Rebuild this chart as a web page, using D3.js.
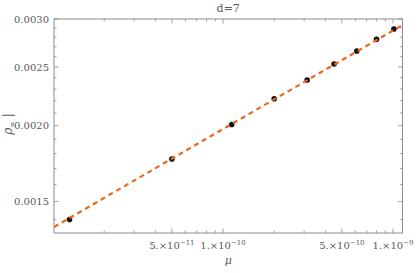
<!DOCTYPE html>
<html>
<head>
<meta charset="utf-8">
<script src="https://cdn.jsdelivr.net/npm/d3@7"></script>
<style>
  body { margin: 0; background: #fff; }
</style>
</head>
<body>
<svg id="chart" width="418" height="273"></svg>
<script>
// data points
var muValues = [1.25e-11, 5e-11, 1.125e-10, 2e-10, 3.125e-10, 4.5e-10, 6.125e-10, 8e-10, 1.0125e-9];
var rhoValues = [0.001401, 0.001763, 0.002010, 0.002216, 0.002380, 0.002529, 0.002657, 0.002778, 0.002888];

// fitted power law rho = fitA * mu^fitB
var fitA = 0.0833;
var fitB = 0.1625;

var xMajorTicks = [5e-11, 1e-10, 5e-10, 1e-9];
var xMajorLabels = [['5.\u00d710', '\u221211'], ['1.\u00d710', '\u221210'], ['5.\u00d710', '\u221210'], ['1.\u00d710', '\u22129']];
var yMajorTicks = [0.0015, 0.0020, 0.0025, 0.0030];
var yMajorLabels = ['0.0015', '0.0020', '0.0025', '0.0030'];

var frame = { left: 54, right: 402.5, top: 19, bottom: 233 };

var x = d3.scaleLog().domain([1.013e-11, 1.137e-9]).range([frame.left, frame.right]);
var y = d3.scaleLog().domain([0.001331, 0.0030]).range([frame.bottom, frame.top]);

var svg = d3.select('#chart')
  .attr('font-family', "'DejaVu Serif', serif");

var frameColor = '#8c8c8c';
var textColor = '#5a5a5a';

// minor ticks
var xMinor = [];
[1e-11, 1e-10, 1e-9].forEach(function(dec) {
  for (var k = 1; k < 10; k++) {
    var v = dec * k;
    var isMajor = xMajorTicks.some(function(m) { return Math.abs(m - v) / m < 1e-6; });
    if (v > x.domain()[0] && v < x.domain()[1] && !isMajor) xMinor.push(v);
  }
});
var yMinor = d3.range(14, 30).map(function(k) { return k / 10000; })
  .filter(function(v) {
    var isMajor = yMajorTicks.some(function(m) { return Math.abs(m - v) < 1e-8; });
    return v > y.domain()[0] && v < y.domain()[1] && !isMajor;
  });

var ticks = svg.append('g').attr('stroke', frameColor).attr('stroke-width', 0.8);

function xTick(v, len) {
  ticks.append('line').attr('x1', x(v)).attr('x2', x(v)).attr('y1', frame.bottom).attr('y2', frame.bottom - len);
  ticks.append('line').attr('x1', x(v)).attr('x2', x(v)).attr('y1', frame.top).attr('y2', frame.top + len);
}
function yTick(v, len) {
  ticks.append('line').attr('y1', y(v)).attr('y2', y(v)).attr('x1', frame.left).attr('x2', frame.left + len);
  ticks.append('line').attr('y1', y(v)).attr('y2', y(v)).attr('x1', frame.right).attr('x2', frame.right - len);
}
xMinor.forEach(function(v) { xTick(v, 2.5); });
xMajorTicks.forEach(function(v) { xTick(v, 4.5); });
yMinor.forEach(function(v) { yTick(v, 2.5); });
yMajorTicks.forEach(function(v) { yTick(v, 4.5); });

// frame
svg.append('rect')
  .attr('x', frame.left).attr('y', frame.top)
  .attr('width', frame.right - frame.left).attr('height', frame.bottom - frame.top)
  .attr('fill', 'none').attr('stroke', frameColor).attr('stroke-width', 1);

// tick labels
xMajorTicks.forEach(function(v, i) {
  var t = svg.append('text')
    .attr('x', x(v)).attr('y', frame.bottom + 16)
    .attr('text-anchor', 'middle')
    .attr('fill', textColor)
    .style('font-size', '10px');
  t.append('tspan').text(xMajorLabels[i][0]);
  t.append('tspan').attr('dy', -4).style('font-size', '7px').text(xMajorLabels[i][1]);
});
yMajorTicks.forEach(function(v, i) {
  svg.append('text')
    .attr('x', frame.left - 5).attr('y', y(v) + 3.5)
    .attr('text-anchor', 'end')
    .attr('fill', textColor)
    .style('font-size', '10px')
    .text(yMajorLabels[i]);
});

// points
svg.append('g').selectAll('circle')
  .data(muValues)
  .enter().append('circle')
  .attr('cx', function(d) { return x(d); })
  .attr('cy', function(d, i) { return y(rhoValues[i]); })
  .attr('r', 2.8)
  .attr('fill', '#111');

// fit line, clipped to the frame
svg.append('clipPath').attr('id', 'clip')
  .append('rect').attr('x', frame.left).attr('y', frame.top)
  .attr('width', frame.right - frame.left).attr('height', frame.bottom - frame.top);

svg.append('path')
  .attr('clip-path', 'url(#clip)')
  .attr('d', d3.line()
    .x(function(d) { return x(d); })
    .y(function(d) { return y(fitA * Math.pow(d, fitB)); })(x.domain()))
  .attr('fill', 'none')
  .attr('stroke', '#e8691e')
  .attr('stroke-width', 2.2)
  .attr('stroke-dasharray', '5,4');

// titles
svg.append('text')
  .attr('x', (frame.left + frame.right) / 2).attr('y', 12)
  .attr('text-anchor', 'middle')
  .attr('fill', textColor)
  .style('font-size', '11px')
  .text('d=7');

svg.append('text')
  .attr('x', (frame.left + frame.right) / 2).attr('y', 264)
  .attr('text-anchor', 'middle')
  .attr('fill', textColor)
  .style('font-size', '11px')
  .style('font-style', 'italic')
  .text('\u03bc');

var yl = svg.append('text')
  .attr('transform', 'translate(12,124) rotate(-90)')
  .attr('text-anchor', 'middle')
  .attr('fill', textColor)
  .style('font-size', '12px');
yl.append('tspan').style('font-style', 'italic').text('\u03c1');
yl.append('tspan').attr('dy', 3).style('font-size', '8px').text('\u221e');
yl.append('tspan').attr('dy', -3).text(' |');
</script>
</body>
</html>
